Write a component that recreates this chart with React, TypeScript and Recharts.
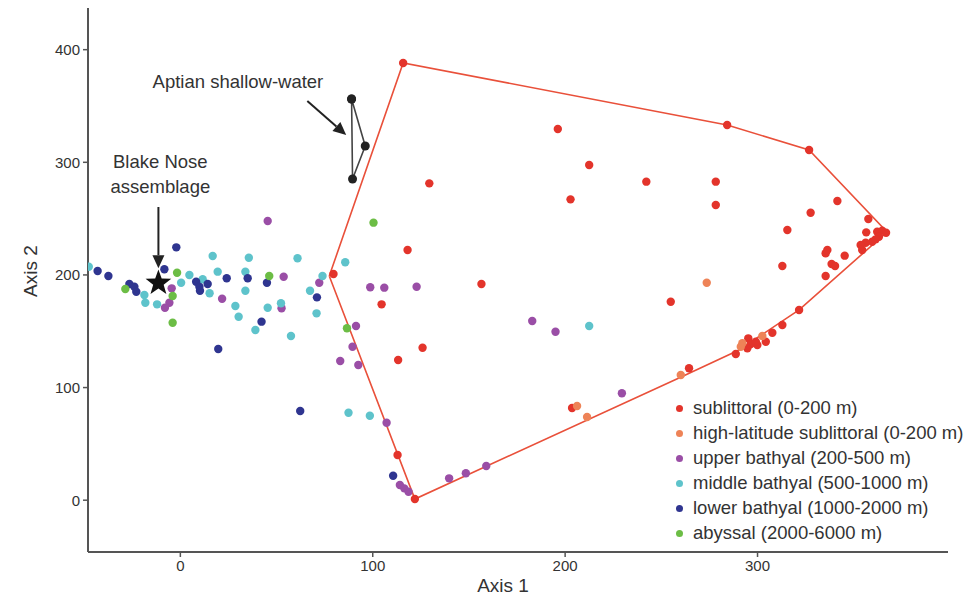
import React from 'react';
import { ScatterChart, Scatter, XAxis, YAxis, ReferenceLine, ReferenceDot } from 'recharts';

type Pt = { x: number; y: number };
const toPts = (rows: number[][]): Pt[] => rows.map(([x, y]) => ({ x, y }));

// values (Axis 1, Axis 2)
const sublittoral = toPts([
  [115.8, 388.2], [284.2, 333.1], [326.8, 310.9], [196.2, 329.6], [212.5, 297.6], [242.2, 282.8],
  [202.8, 267.1], [278.3, 282.8], [278.3, 262.1], [341.5, 265.6], [327.6, 255.2], [357.6, 249.7],
  [315.5, 239.9], [356.5, 237.8], [362.2, 238.4], [364.8, 239.3], [366.8, 237.5], [363.1, 233.9],
  [361.4, 231.6], [359.6, 229.5], [356.2, 228.6], [353.6, 226.6], [354.4, 222.1], [335.4, 219.2],
  [336.3, 222.1], [345.3, 217.1], [338.5, 209.7], [340.3, 207.9], [312.9, 207.9], [335.4, 199],
  [254.9, 176.2], [321.6, 168.9], [312.9, 155.5], [307.7, 148.7], [304.3, 140.7], [295.2, 143.7],
  [296.5, 138.7], [299.9, 137.8], [299.1, 140.7], [294.7, 134.8], [288.7, 129.8], [264.4, 117.1],
  [203.6, 81.8], [156.5, 191.9], [129.4, 281.3], [118.1, 222.1], [79.6, 200.8], [104.6, 173.9],
  [125.9, 135.4], [113.2, 124.5], [112.9, 40.1], [121.9, 1],
]);

const highLatitude = toPts([
  [273.6, 193.1], [302.5, 145.8], [292.1, 139.3], [291.3, 136.3], [260.1, 111.1], [206.2, 83.6], [211.4, 73.8],
]);

const upperBathyal = toPts([
  [45.4, 247.9], [-4.5, 188.1], [-5.7, 175.3], [-8, 170.9], [21.7, 178.9], [53.7, 198.4], [72.2, 193.1],
  [98.7, 189], [106, 188.7], [122.8, 189.5], [52.6, 170.4], [91.3, 154.6], [89.5, 136.3], [83.1, 123.6],
  [92.5, 120], [107.2, 68.8], [114.1, 13.5], [116.4, 10.5], [118.6, 7.5], [139.7, 19.4], [148.4, 23.9],
  [159, 30.3], [182.9, 159.1], [195, 149.6], [229.5, 94.9],
]);

const middleBathyal = toPts([
  [-47.6, 207.3], [-18.7, 182.2], [-18.2, 175.3], [-12.1, 173.9], [0.4, 193.1], [4.7, 199.9], [11.6, 196.1],
  [15.2, 183.7], [16.8, 216.8], [19.4, 202.9], [35.6, 215.3], [60.9, 214.8], [85.7, 211.2], [33.8, 202.9],
  [73.9, 199], [33.8, 186], [67.4, 186], [28.6, 172.4], [45.4, 170.9], [52.3, 174.8], [30.3, 162.9],
  [70.8, 165.9], [39, 151.1], [57.5, 145.8], [87.4, 77.7], [98.5, 75], [212.5, 154.6],
]);

const lowerBathyal = toPts([
  [-43, 203.5], [-37.4, 199], [-26.5, 191.9], [-23.9, 189.5], [-22.9, 185.1], [-8.3, 205], [-2.1, 224.5],
  [8.2, 194], [9.9, 189.5], [10.2, 186], [14.2, 191.9], [24.1, 197], [35, 197], [45, 193.1], [71, 180.1],
  [42.2, 158.5], [19.7, 134.2], [62.3, 79.2], [110.6, 21.7],
]);

const abyssal = toPts([
  [-28.6, 187.5], [-4, 181.3], [-4, 157.6], [-1.7, 202], [46.2, 199], [86.6, 152.6], [100.4, 246.4],
]);

// hull around the sublittoral assemblages (closed)
const hull = toPts([
  [77.4, 199], [115.8, 388.2], [284.2, 333.1], [326.8, 310.9], [367.3, 238.1], [321.6, 168.9],
  [290.4, 133.4], [260.3, 109.4], [121.9, 1], [77.4, 199],
]);

const aptian = toPts([[89, 356.2], [96.1, 314.5], [89.5, 285.2], [89, 356.2]]);
const blakeNose = toPts([[-11.4, 192.8]]);

const xTicks = [0, 100, 200, 300];
const yTicks = [0, 100, 200, 300, 400];

const categories = [
  { name: 'sublittoral (0-200 m)', color: '#e3342b', data: sublittoral },
  { name: 'high-latitude sublittoral (0-200 m)', color: '#ee8357', data: highLatitude },
  { name: 'upper bathyal (200-500 m)', color: '#9a4ea6', data: upperBathyal },
  { name: 'middle bathyal (500-1000 m)', color: '#5ec3cb', data: middleBathyal },
  { name: 'lower bathyal (1000-2000 m)', color: '#2f3590', data: lowerBathyal },
  { name: 'abyssal (2000-6000 m)', color: '#6cbd45', data: abyssal },
];

const FONT = '"Liberation Sans", Arial, Helvetica, sans-serif';
const TEXT = '#333333';
const AXIS = '#555555';

const dot = (r: number, color: string) => (p: any) => <circle cx={p.cx} cy={p.cy} r={r} fill={color} />;

const star = (p: any) => {
  const pts: string[] = [];
  for (let i = 0; i < 10; i++) {
    const rad = i % 2 === 0 ? 13.5 : 5.5;
    const a = -Math.PI / 2 + (i * Math.PI) / 5;
    pts.push(`${p.cx + rad * Math.cos(a)},${p.cy + rad * Math.sin(a)}`);
  }
  return <polygon points={pts.join(' ')} fill="#111" />;
};

const arrow = (p: any) => {
  const { x1, y1, x2, y2 } = p;
  const ang = Math.atan2(y2 - y1, x2 - x1);
  const len = 13, half = 6;
  const bx = x2 - len * Math.cos(ang), by = y2 - len * Math.sin(ang);
  const nx = -Math.sin(ang) * half, ny = Math.cos(ang) * half;
  return (
    <g>
      <line x1={x1} y1={y1} x2={bx} y2={by} stroke="#222" strokeWidth={2} />
      <polygon points={`${x2},${y2} ${bx + nx},${by + ny} ${bx - nx},${by - ny}`} fill="#222" />
    </g>
  );
};

const note = (text: string, anchor: 'start' | 'middle' | 'end') => (p: any) => (
  <text x={p.cx} y={p.cy} textAnchor={anchor} dominantBaseline="central" fontSize={18.5} fontFamily={FONT} fill={TEXT}>
    {text}
  </text>
);

export default function App() {
  return (
    <div style={{ position: 'absolute', left: 0, top: 0, width: 970, height: 597, background: '#fff', fontFamily: FONT }}>
      <ScatterChart width={970} height={597} margin={{ top: 8, right: 22, bottom: 0, left: 0 }}>
        <XAxis
          type="number"
          dataKey="x"
          domain={[-48, 399]}
          ticks={xTicks}
          allowDataOverflow
          height={45}
          tickSize={5}
          tickMargin={3}
          axisLine={{ stroke: AXIS, strokeWidth: 2 }}
          tickLine={{ stroke: AXIS, strokeWidth: 1.5 }}
          tick={{ fontSize: 15, fill: TEXT, fontFamily: FONT }}
          label={{
            content: () => (
              <text x={503} y={585} textAnchor="middle" dominantBaseline="central" fontSize={19} fontFamily={FONT} fill={TEXT}>
                Axis 1
              </text>
            ),
          }}
        />
        <YAxis
          type="number"
          dataKey="y"
          domain={[-46, 437]}
          ticks={yTicks}
          allowDataOverflow
          width={88}
          tickSize={5}
          tickMargin={3}
          axisLine={{ stroke: AXIS, strokeWidth: 2 }}
          tickLine={{ stroke: AXIS, strokeWidth: 1.5 }}
          tick={{ fontSize: 15, fill: TEXT, fontFamily: FONT }}
          label={{
            content: () => (
              <text x={30} y={271} transform="rotate(-90 30 271)" textAnchor="middle" dominantBaseline="central" fontSize={19} fontFamily={FONT} fill={TEXT}>
                Axis 2
              </text>
            ),
          }}
        />
        <Scatter data={hull} line={{ stroke: '#e9503a', strokeWidth: 1.6 }} shape={() => <g />} isAnimationActive={false} />
        {categories.map((c) => (
          <Scatter key={c.name} name={c.name} data={c.data} fill={c.color} shape={dot(4.2, c.color)} isAnimationActive={false} />
        ))}
        <Scatter data={aptian} line={{ stroke: '#444', strokeWidth: 1.6 }} shape={dot(4.5, '#222')} isAnimationActive={false} />
        <Scatter data={blakeNose} shape={star} isAnimationActive={false} />
        <ReferenceLine segment={[{ x: -11.4, y: 260.3 }, { x: -11.4, y: 206 }]} shape={arrow} />
        <ReferenceLine segment={[{ x: 66, y: 354.4 }, { x: 86.2, y: 324.2 }]} shape={arrow} />
        <ReferenceDot x={-10.4} y={300.3} r={0} shape={note('Blake Nose', 'middle')} />
        <ReferenceDot x={-10.4} y={278.1} r={0} shape={note('assemblage', 'middle')} />
        <ReferenceDot x={74.3} y={371.3} r={0} shape={note('Aptian shallow-water', 'end')} />
      </ScatterChart>
      <div style={{ position: 'absolute', left: 672, top: 395.5 }}>
        {categories.map((c) => (
          <div key={c.name} style={{ height: 25, display: 'flex', alignItems: 'center', whiteSpace: 'nowrap' }}>
            <span style={{ width: 7, height: 7, borderRadius: '50%', background: c.color, marginLeft: 3.5, marginRight: 10.5 }} />
            <span style={{ fontSize: 18.5, color: TEXT }}>{c.name}</span>
          </div>
        ))}
      </div>
    </div>
  );
}
